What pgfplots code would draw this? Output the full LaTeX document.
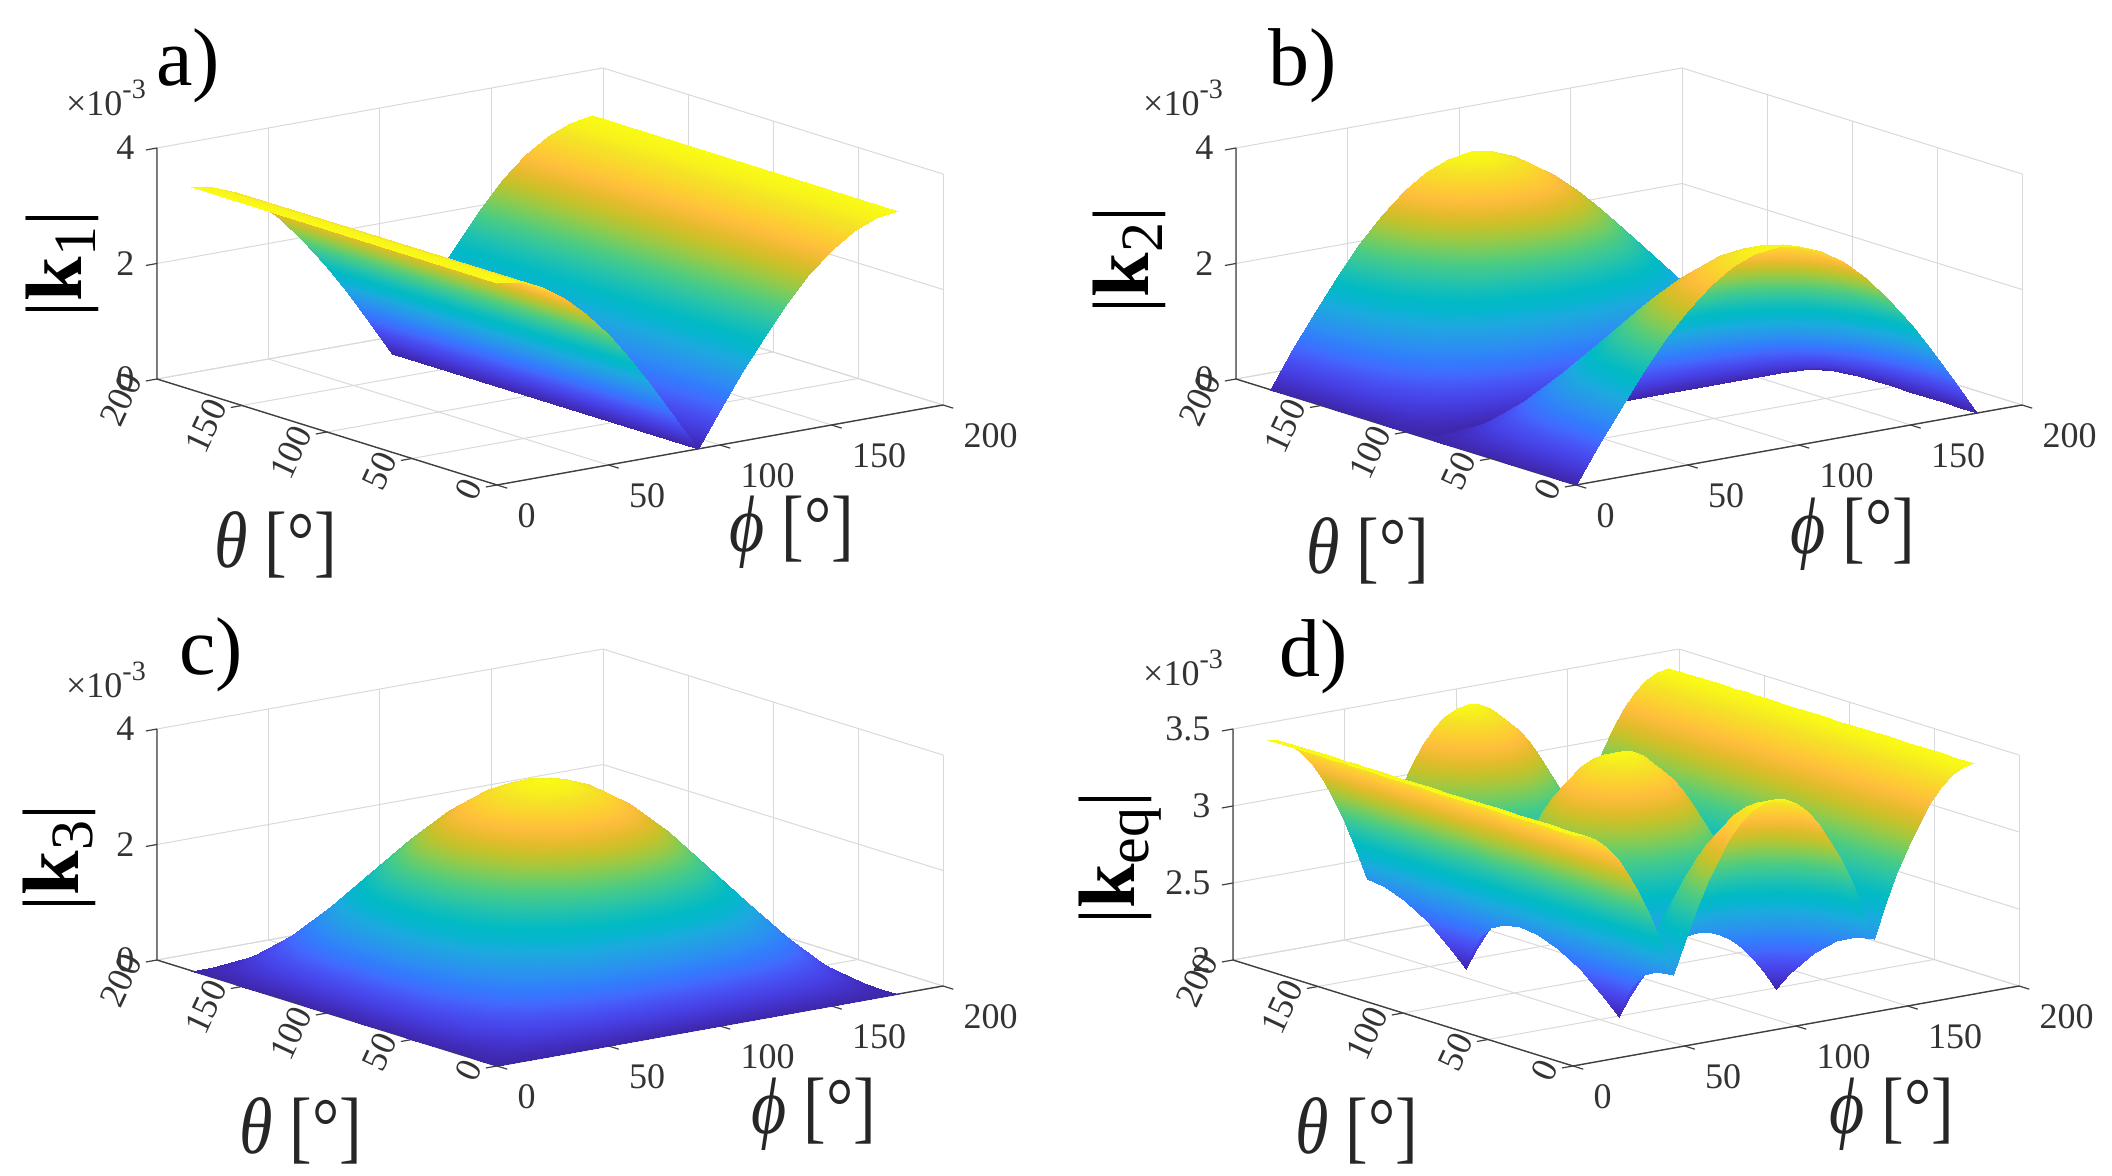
\documentclass[border=0pt]{standalone}
\usepackage{pgfplots}
\pgfplotsset{compat=1.18}
\usepackage{fontspec}
\setmainfont{Liberation Serif}
\pgfplotsset{
 colormap={parula}{rgb=(0.2422,0.1504,0.6603) rgb=(0.2647,0.1978,0.7952) rgb=(0.2783,0.2559,0.8991) rgb=(0.2810,0.3228,0.9579) rgb=(0.2602,0.4123,0.9952) rgb=(0.1963,0.4847,0.9892) rgb=(0.1764,0.5499,0.9520) rgb=(0.1460,0.6091,0.9079) rgb=(0.1113,0.6635,0.8763) rgb=(0.0297,0.7082,0.8163) rgb=(0.0067,0.7312,0.7660) rgb=(0.0964,0.7500,0.7120) rgb=(0.1938,0.7758,0.6251) rgb=(0.2906,0.7973,0.5188) rgb=(0.4456,0.8024,0.3909) rgb=(0.6174,0.7876,0.2612) rgb=(0.7738,0.7598,0.1646) rgb=(0.9035,0.7330,0.1774) rgb=(0.9956,0.7434,0.2371) rgb=(0.9892,0.8136,0.1885) rgb=(0.9610,0.8890,0.1537) rgb=(0.9769,0.9839,0.0805)},
 panel/.style={anchor=center, clip=false, x={(1.115pt,0.2pt)}, y={(-0.85pt,0.265pt)},
  xmin=0,xmax=200,ymin=0,ymax=200,
  xtick={0,50,100,150,200}, ytick={0,50,100,150,200},
  axis line style={draw=none}, tick pos=left,
  grid=major, grid style={black!15,line width=.5pt},
  tick align=outside, tick style={draw=none}, major tick length=5pt,
  /pgf/number format/assume math mode=true,
  tick label style={font=\fontsize{18}{18}\selectfont, text=black!80},
  xticklabel style={anchor=west,xshift=2pt,yshift=-14pt},
  yticklabel style={rotate=65,anchor=east,xshift=3pt,yshift=8pt},
  zticklabel style={anchor=east,xshift=-3pt,yshift=-1.5pt},
 },
 srf/.style={surf,shader=interp,z buffer=none,mesh/ordering=x varies,mesh/cols=19},
}
\newcommand\axl{\fontsize{40}{40}\selectfont}
\newcommand\subs[1]{\raisebox{-.18em}{\fontsize{30}{30}\selectfont #1}}
\newcommand\timesten{×10\raisebox{.45em}{\fontsize{14}{14}\selectfont -3}}
\newcommand\axframe[2]{%
\draw[black!75,line width=.7pt] (axis cs:200,0,#1)--(axis cs:0,0,#1)--(axis cs:0,200,#1)--(axis cs:0,200,#2);
\draw[black!75,line width=.6pt] (axis cs:0,0,#1)--(axis cs:0,-6,#1) (axis cs:50,0,#1)--(axis cs:50,-6,#1) (axis cs:100,0,#1)--(axis cs:100,-6,#1) (axis cs:150,0,#1)--(axis cs:150,-6,#1) (axis cs:200,0,#1)--(axis cs:200,-6,#1)
 (axis cs:0,0,#1)--(axis cs:-5,0,#1) (axis cs:0,50,#1)--(axis cs:-5,50,#1) (axis cs:0,100,#1)--(axis cs:-5,100,#1) (axis cs:0,150,#1)--(axis cs:-5,150,#1) (axis cs:0,200,#1)--(axis cs:-5,200,#1);}
\newcommand\zstub[1]{\draw[black!75,line width=.6pt] (axis cs:0,200,#1)--(axis cs:-5,200,#1);}
\begin{document}
\begin{tikzpicture}
\path[use as bounding box] (0pt,0pt) rectangle (1056pt,588pt);
% panel a
\begin{axis}[panel, at={(275pt,449.75pt)}, z={(0pt,28.875pt)}, zmin=0,zmax=4, ztick={0,2,4}]
\axframe{0}{4}\zstub{2}\zstub{4}
\addplot3[srf,mesh/rows=2] table {
180 180 3.5
170 180 3.447
160 180 3.289
150 180 3.031
140 180 2.681
130 180 2.25
120 180 1.75
110 180 1.197
100 180 .608
90 180 0
80 180 .608
70 180 1.197
60 180 1.75
50 180 2.25
40 180 2.681
30 180 3.031
20 180 3.289
10 180 3.447
0 180 3.5
180 0 3.5
170 0 3.447
160 0 3.289
150 0 3.031
140 0 2.681
130 0 2.25
120 0 1.75
110 0 1.197
100 0 .608
90 0 0
80 0 .608
70 0 1.197
60 0 1.75
50 0 2.25
40 0 2.681
30 0 3.031
20 0 3.289
10 0 3.447
0 0 3.5
};
\end{axis}
% panel b
\begin{axis}[panel, at={(814.5pt,449.75pt)}, z={(0pt,28.875pt)}, zmin=0,zmax=4, ztick={0,2,4}]
\axframe{0}{4}\zstub{2}\zstub{4}
\addplot3[srf,mesh/rows=19] table {
180 180 0
170 180 .608
160 180 1.197
150 180 1.75
140 180 2.25
130 180 2.681
120 180 3.031
110 180 3.289
100 180 3.447
90 180 3.5
80 180 3.447
70 180 3.289
60 180 3.031
50 180 2.681
40 180 2.25
30 180 1.75
20 180 1.197
10 180 .608
0 180 0
180 170 0
170 170 .598
160 170 1.179
150 170 1.723
140 170 2.216
130 170 2.64
120 170 2.985
110 170 3.239
100 170 3.394
90 170 3.447
80 170 3.394
70 170 3.239
60 170 2.985
50 170 2.64
40 170 2.216
30 170 1.723
20 170 1.179
10 170 .598
0 170 0
180 160 0
170 160 .571
160 160 1.125
150 160 1.645
140 160 2.114
130 160 2.52
120 160 2.848
110 160 3.09
100 160 3.239
90 160 3.289
80 160 3.239
70 160 3.09
60 160 2.848
50 160 2.52
40 160 2.114
30 160 1.645
20 160 1.125
10 160 .571
0 160 0
180 150 0
170 150 .526
160 150 1.037
150 150 1.516
140 150 1.948
130 150 2.322
120 150 2.625
110 150 2.848
100 150 2.985
90 150 3.031
80 150 2.985
70 150 2.848
60 150 2.625
50 150 2.322
40 150 1.948
30 150 1.516
20 150 1.037
10 150 .526
0 150 0
180 140 0
170 140 .465
160 140 .917
150 140 1.341
140 140 1.723
130 140 2.054
120 140 2.322
110 140 2.52
100 140 2.64
90 140 2.681
80 140 2.64
70 140 2.52
60 140 2.322
50 140 2.054
40 140 1.723
30 140 1.341
20 140 .917
10 140 .465
0 140 0
180 130 0
170 130 .391
160 130 .77
150 130 1.125
140 130 1.446
130 130 1.723
120 130 1.948
110 130 2.114
100 130 2.216
90 130 2.25
80 130 2.216
70 130 2.114
60 130 1.948
50 130 1.723
40 130 1.446
30 130 1.125
20 130 .77
10 130 .391
0 130 0
180 120 0
170 120 .304
160 120 .599
150 120 .875
140 120 1.125
130 120 1.341
120 120 1.516
110 120 1.645
100 120 1.723
90 120 1.75
80 120 1.723
70 120 1.645
60 120 1.516
50 120 1.341
40 120 1.125
30 120 .875
20 120 .599
10 120 .304
0 120 0
180 110 0
170 110 .208
160 110 .409
150 110 .599
140 110 .77
130 110 .917
120 110 1.037
110 110 1.125
100 110 1.179
90 110 1.197
80 110 1.179
70 110 1.125
60 110 1.037
50 110 .917
40 110 .77
30 110 .599
20 110 .409
10 110 .208
0 110 0
180 100 0
170 100 .106
160 100 .208
150 100 .304
140 100 .391
130 100 .465
120 100 .526
110 100 .571
100 100 .598
90 100 .608
80 100 .598
70 100 .571
60 100 .526
50 100 .465
40 100 .391
30 100 .304
20 100 .208
10 100 .106
0 100 0
180 90 0
170 90 0
160 90 0
150 90 0
140 90 0
130 90 0
120 90 0
110 90 0
100 90 0
90 90 0
80 90 0
70 90 0
60 90 0
50 90 0
40 90 0
30 90 0
20 90 0
10 90 0
0 90 0
180 80 0
170 80 .106
160 80 .208
150 80 .304
140 80 .391
130 80 .465
120 80 .526
110 80 .571
100 80 .598
90 80 .608
80 80 .598
70 80 .571
60 80 .526
50 80 .465
40 80 .391
30 80 .304
20 80 .208
10 80 .106
0 80 0
180 70 0
170 70 .208
160 70 .409
150 70 .599
140 70 .77
130 70 .917
120 70 1.037
110 70 1.125
100 70 1.179
90 70 1.197
80 70 1.179
70 70 1.125
60 70 1.037
50 70 .917
40 70 .77
30 70 .599
20 70 .409
10 70 .208
0 70 0
180 60 0
170 60 .304
160 60 .599
150 60 .875
140 60 1.125
130 60 1.341
120 60 1.516
110 60 1.645
100 60 1.723
90 60 1.75
80 60 1.723
70 60 1.645
60 60 1.516
50 60 1.341
40 60 1.125
30 60 .875
20 60 .599
10 60 .304
0 60 0
180 50 0
170 50 .391
160 50 .77
150 50 1.125
140 50 1.446
130 50 1.723
120 50 1.948
110 50 2.114
100 50 2.216
90 50 2.25
80 50 2.216
70 50 2.114
60 50 1.948
50 50 1.723
40 50 1.446
30 50 1.125
20 50 .77
10 50 .391
0 50 0
180 40 0
170 40 .465
160 40 .917
150 40 1.341
140 40 1.723
130 40 2.054
120 40 2.322
110 40 2.52
100 40 2.64
90 40 2.681
80 40 2.64
70 40 2.52
60 40 2.322
50 40 2.054
40 40 1.723
30 40 1.341
20 40 .917
10 40 .465
0 40 0
180 30 0
170 30 .526
160 30 1.037
150 30 1.516
140 30 1.948
130 30 2.322
120 30 2.625
110 30 2.848
100 30 2.985
90 30 3.031
80 30 2.985
70 30 2.848
60 30 2.625
50 30 2.322
40 30 1.948
30 30 1.516
20 30 1.037
10 30 .526
0 30 0
180 20 0
170 20 .571
160 20 1.125
150 20 1.645
140 20 2.114
130 20 2.52
120 20 2.848
110 20 3.09
100 20 3.239
90 20 3.289
80 20 3.239
70 20 3.09
60 20 2.848
50 20 2.52
40 20 2.114
30 20 1.645
20 20 1.125
10 20 .571
0 20 0
180 10 0
170 10 .598
160 10 1.179
150 10 1.723
140 10 2.216
130 10 2.64
120 10 2.985
110 10 3.239
100 10 3.394
90 10 3.447
80 10 3.394
70 10 3.239
60 10 2.985
50 10 2.64
40 10 2.216
30 10 1.723
20 10 1.179
10 10 .598
0 10 0
180 0 0
170 0 .608
160 0 1.197
150 0 1.75
140 0 2.25
130 0 2.681
120 0 3.031
110 0 3.289
100 0 3.447
90 0 3.5
80 0 3.447
70 0 3.289
60 0 3.031
50 0 2.681
40 0 2.25
30 0 1.75
20 0 1.197
10 0 .608
0 0 0
};
\end{axis}
% panel c
\begin{axis}[panel, at={(275pt,159.25pt)}, z={(0pt,28.875pt)}, zmin=0,zmax=4, ztick={0,2,4}]
\axframe{0}{4}\zstub{2}\zstub{4}
\addplot3[srf,mesh/rows=19] table {
180 180 0
170 180 0
160 180 0
150 180 0
140 180 0
130 180 0
120 180 0
110 180 0
100 180 0
90 180 0
80 180 0
70 180 0
60 180 0
50 180 0
40 180 0
30 180 0
20 180 0
10 180 0
0 180 0
180 170 0
170 170 .106
160 170 .208
150 170 .304
140 170 .391
130 170 .465
120 170 .526
110 170 .571
100 170 .598
90 170 .608
80 170 .598
70 170 .571
60 170 .526
50 170 .465
40 170 .391
30 170 .304
20 170 .208
10 170 .106
0 170 0
180 160 0
170 160 .208
160 160 .409
150 160 .599
140 160 .77
130 160 .917
120 160 1.037
110 160 1.125
100 160 1.179
90 160 1.197
80 160 1.179
70 160 1.125
60 160 1.037
50 160 .917
40 160 .77
30 160 .599
20 160 .409
10 160 .208
0 160 0
180 150 0
170 150 .304
160 150 .599
150 150 .875
140 150 1.125
130 150 1.341
120 150 1.516
110 150 1.645
100 150 1.723
90 150 1.75
80 150 1.723
70 150 1.645
60 150 1.516
50 150 1.341
40 150 1.125
30 150 .875
20 150 .599
10 150 .304
0 150 0
180 140 0
170 140 .391
160 140 .77
150 140 1.125
140 140 1.446
130 140 1.723
120 140 1.948
110 140 2.114
100 140 2.216
90 140 2.25
80 140 2.216
70 140 2.114
60 140 1.948
50 140 1.723
40 140 1.446
30 140 1.125
20 140 .77
10 140 .391
0 140 0
180 130 0
170 130 .465
160 130 .917
150 130 1.341
140 130 1.723
130 130 2.054
120 130 2.322
110 130 2.52
100 130 2.64
90 130 2.681
80 130 2.64
70 130 2.52
60 130 2.322
50 130 2.054
40 130 1.723
30 130 1.341
20 130 .917
10 130 .465
0 130 0
180 120 0
170 120 .526
160 120 1.037
150 120 1.516
140 120 1.948
130 120 2.322
120 120 2.625
110 120 2.848
100 120 2.985
90 120 3.031
80 120 2.985
70 120 2.848
60 120 2.625
50 120 2.322
40 120 1.948
30 120 1.516
20 120 1.037
10 120 .526
0 120 0
180 110 0
170 110 .571
160 110 1.125
150 110 1.645
140 110 2.114
130 110 2.52
120 110 2.848
110 110 3.09
100 110 3.239
90 110 3.289
80 110 3.239
70 110 3.09
60 110 2.848
50 110 2.52
40 110 2.114
30 110 1.645
20 110 1.125
10 110 .571
0 110 0
180 100 0
170 100 .598
160 100 1.179
150 100 1.723
140 100 2.216
130 100 2.64
120 100 2.985
110 100 3.239
100 100 3.394
90 100 3.447
80 100 3.394
70 100 3.239
60 100 2.985
50 100 2.64
40 100 2.216
30 100 1.723
20 100 1.179
10 100 .598
0 100 0
180 90 0
170 90 .608
160 90 1.197
150 90 1.75
140 90 2.25
130 90 2.681
120 90 3.031
110 90 3.289
100 90 3.447
90 90 3.5
80 90 3.447
70 90 3.289
60 90 3.031
50 90 2.681
40 90 2.25
30 90 1.75
20 90 1.197
10 90 .608
0 90 0
180 80 0
170 80 .598
160 80 1.179
150 80 1.723
140 80 2.216
130 80 2.64
120 80 2.985
110 80 3.239
100 80 3.394
90 80 3.447
80 80 3.394
70 80 3.239
60 80 2.985
50 80 2.64
40 80 2.216
30 80 1.723
20 80 1.179
10 80 .598
0 80 0
180 70 0
170 70 .571
160 70 1.125
150 70 1.645
140 70 2.114
130 70 2.52
120 70 2.848
110 70 3.09
100 70 3.239
90 70 3.289
80 70 3.239
70 70 3.09
60 70 2.848
50 70 2.52
40 70 2.114
30 70 1.645
20 70 1.125
10 70 .571
0 70 0
180 60 0
170 60 .526
160 60 1.037
150 60 1.516
140 60 1.948
130 60 2.322
120 60 2.625
110 60 2.848
100 60 2.985
90 60 3.031
80 60 2.985
70 60 2.848
60 60 2.625
50 60 2.322
40 60 1.948
30 60 1.516
20 60 1.037
10 60 .526
0 60 0
180 50 0
170 50 .465
160 50 .917
150 50 1.341
140 50 1.723
130 50 2.054
120 50 2.322
110 50 2.52
100 50 2.64
90 50 2.681
80 50 2.64
70 50 2.52
60 50 2.322
50 50 2.054
40 50 1.723
30 50 1.341
20 50 .917
10 50 .465
0 50 0
180 40 0
170 40 .391
160 40 .77
150 40 1.125
140 40 1.446
130 40 1.723
120 40 1.948
110 40 2.114
100 40 2.216
90 40 2.25
80 40 2.216
70 40 2.114
60 40 1.948
50 40 1.723
40 40 1.446
30 40 1.125
20 40 .77
10 40 .391
0 40 0
180 30 0
170 30 .304
160 30 .599
150 30 .875
140 30 1.125
130 30 1.341
120 30 1.516
110 30 1.645
100 30 1.723
90 30 1.75
80 30 1.723
70 30 1.645
60 30 1.516
50 30 1.341
40 30 1.125
30 30 .875
20 30 .599
10 30 .304
0 30 0
180 20 0
170 20 .208
160 20 .409
150 20 .599
140 20 .77
130 20 .917
120 20 1.037
110 20 1.125
100 20 1.179
90 20 1.197
80 20 1.179
70 20 1.125
60 20 1.037
50 20 .917
40 20 .77
30 20 .599
20 20 .409
10 20 .208
0 20 0
180 10 0
170 10 .106
160 10 .208
150 10 .304
140 10 .391
130 10 .465
120 10 .526
110 10 .571
100 10 .598
90 10 .608
80 10 .598
70 10 .571
60 10 .526
50 10 .465
40 10 .391
30 10 .304
20 10 .208
10 10 .106
0 10 0
180 0 0
170 0 0
160 0 0
150 0 0
140 0 0
130 0 0
120 0 0
110 0 0
100 0 0
90 0 0
80 0 0
70 0 0
60 0 0
50 0 0
40 0 0
30 0 0
20 0 0
10 0 0
0 0 0
};
\end{axis}
% panel d
\begin{axis}[panel, at={(813pt,159.25pt)}, z={(0pt,77pt)}, zmin=2,zmax=3.5, ztick={2,2.5,3,3.5}]
\axframe{2}{3.5}\zstub{2.5}\zstub{3}\zstub{3.5}
\addplot3[srf,mesh/cols=37,mesh/rows=21] table {
180 180 3.5
175 180 3.487
170 180 3.447
165 180 3.381
160 180 3.289
155 180 3.172
150 180 3.031
145 180 2.867
140 180 2.681
135 180 2.475
135 180 2.475
125 180 2.867
120 180 3.031
115 180 3.172
110 180 3.289
105 180 3.381
100 180 3.447
95 180 3.487
90 180 3.5
85 180 3.487
80 180 3.447
75 180 3.381
70 180 3.289
65 180 3.172
60 180 3.031
55 180 2.867
45 180 2.475
45 180 2.475
40 180 2.681
35 180 2.867
30 180 3.031
25 180 3.172
20 180 3.289
15 180 3.381
10 180 3.447
5 180 3.487
0 180 3.5
180 170 3.5
175 170 3.487
170 170 3.447
165 170 3.381
160 170 3.289
155 170 3.172
150 170 3.031
145 170 2.867
140 170 2.681
135 170 2.475
134.56 170 2.456
125 170 2.824
120 170 2.985
115 170 3.124
110 170 3.239
105 170 3.329
100 170 3.394
95 170 3.434
90 170 3.447
85 170 3.434
80 170 3.394
75 170 3.329
70 170 3.239
65 170 3.124
60 170 2.985
55 170 2.824
45.44 170 2.456
45 170 2.475
40 170 2.681
35 170 2.867
30 170 3.031
25 170 3.172
20 170 3.289
15 170 3.381
10 170 3.447
5 170 3.487
0 170 3.5
180 160 3.5
175 160 3.487
170 160 3.447
165 160 3.381
160 160 3.289
155 160 3.172
150 160 3.031
145 160 2.867
140 160 2.681
135 160 2.475
133.22 160 2.398
125 160 2.694
120 160 2.848
115 160 2.981
110 160 3.09
105 160 3.177
100 160 3.239
95 160 3.277
90 160 3.289
85 160 3.277
80 160 3.239
75 160 3.177
70 160 3.09
65 160 2.981
60 160 2.848
55 160 2.694
46.78 160 2.398
45 160 2.475
40 160 2.681
35 160 2.867
30 160 3.031
25 160 3.172
20 160 3.289
15 160 3.381
10 160 3.447
5 160 3.487
0 160 3.5
180 150 3.5
175 150 3.487
170 150 3.447
165 150 3.381
160 150 3.289
155 150 3.172
150 150 3.031
145 150 2.867
140 150 2.681
135 150 2.475
130.89 150 2.291
125 150 2.483
120 150 2.625
115 150 2.747
110 150 2.848
105 150 2.928
100 150 2.985
95 150 3.019
90 150 3.031
85 150 3.019
80 150 2.985
75 150 2.928
70 150 2.848
65 150 2.747
60 150 2.625
55 150 2.483
49.11 150 2.291
45 150 2.475
40 150 2.681
35 150 2.867
30 150 3.031
25 150 3.172
20 150 3.289
15 150 3.381
10 150 3.447
5 150 3.487
0 150 3.5
180 140 3.5
175 140 3.487
170 140 3.447
165 140 3.381
160 140 3.289
155 140 3.172
150 140 3.031
145 140 2.867
140 140 2.681
135 140 2.475
127.46 140 2.129
125 140 2.196
120 140 2.322
115 140 2.43
110 140 2.52
105 140 2.59
100 140 2.64
95 140 2.671
90 140 2.681
85 140 2.671
80 140 2.64
75 140 2.59
70 140 2.52
65 140 2.43
60 140 2.322
55 140 2.196
52.54 140 2.129
45 140 2.475
40 140 2.681
35 140 2.867
30 140 3.031
25 140 3.172
20 140 3.289
15 140 3.381
10 140 3.447
5 140 3.487
0 140 3.5
180 135 3.5
175 135 3.487
170 135 3.447
165 135 3.381
160 135 3.289
155 135 3.172
150 135 3.031
145 135 2.867
140 135 2.681
135 135 2.475
125.26 135 2.021
125 135 2.028
120 135 2.143
115 135 2.243
110 135 2.326
105 135 2.391
100 135 2.437
95 135 2.466
90 135 2.475
85 135 2.466
80 135 2.437
75 135 2.391
70 135 2.326
65 135 2.243
60 135 2.143
55 135 2.028
54.74 135 2.021
45 135 2.475
40 135 2.681
35 135 2.867
30 135 3.031
25 135 3.172
20 135 3.289
15 135 3.381
10 135 3.447
5 135 3.487
0 135 3.5
180 130 3.5
175 130 3.487
170 130 3.447
165 130 3.381
160 130 3.289
155 130 3.172
150 130 3.031
145 130 2.867
140 130 2.681
135 130 2.475
127.46 130 2.129
125 130 2.196
120 130 2.322
115 130 2.43
110 130 2.52
105 130 2.59
100 130 2.64
95 130 2.671
90 130 2.681
85 130 2.671
80 130 2.64
75 130 2.59
70 130 2.52
65 130 2.43
60 130 2.322
55 130 2.196
52.54 130 2.129
45 130 2.475
40 130 2.681
35 130 2.867
30 130 3.031
25 130 3.172
20 130 3.289
15 130 3.381
10 130 3.447
5 130 3.487
0 130 3.5
180 120 3.5
175 120 3.487
170 120 3.447
165 120 3.381
160 120 3.289
155 120 3.172
150 120 3.031
145 120 2.867
140 120 2.681
135 120 2.475
130.89 120 2.291
125 120 2.483
120 120 2.625
115 120 2.747
110 120 2.848
105 120 2.928
100 120 2.985
95 120 3.019
90 120 3.031
85 120 3.019
80 120 2.985
75 120 2.928
70 120 2.848
65 120 2.747
60 120 2.625
55 120 2.483
49.11 120 2.291
45 120 2.475
40 120 2.681
35 120 2.867
30 120 3.031
25 120 3.172
20 120 3.289
15 120 3.381
10 120 3.447
5 120 3.487
0 120 3.5
180 110 3.5
175 110 3.487
170 110 3.447
165 110 3.381
160 110 3.289
155 110 3.172
150 110 3.031
145 110 2.867
140 110 2.681
135 110 2.475
133.22 110 2.398
125 110 2.694
120 110 2.848
115 110 2.981
110 110 3.09
105 110 3.177
100 110 3.239
95 110 3.277
90 110 3.289
85 110 3.277
80 110 3.239
75 110 3.177
70 110 3.09
65 110 2.981
60 110 2.848
55 110 2.694
46.78 110 2.398
45 110 2.475
40 110 2.681
35 110 2.867
30 110 3.031
25 110 3.172
20 110 3.289
15 110 3.381
10 110 3.447
5 110 3.487
0 110 3.5
180 100 3.5
175 100 3.487
170 100 3.447
165 100 3.381
160 100 3.289
155 100 3.172
150 100 3.031
145 100 2.867
140 100 2.681
135 100 2.475
134.56 100 2.456
125 100 2.824
120 100 2.985
115 100 3.124
110 100 3.239
105 100 3.329
100 100 3.394
95 100 3.434
90 100 3.447
85 100 3.434
80 100 3.394
75 100 3.329
70 100 3.239
65 100 3.124
60 100 2.985
55 100 2.824
45.44 100 2.456
45 100 2.475
40 100 2.681
35 100 2.867
30 100 3.031
25 100 3.172
20 100 3.289
15 100 3.381
10 100 3.447
5 100 3.487
0 100 3.5
180 90 3.5
175 90 3.487
170 90 3.447
165 90 3.381
160 90 3.289
155 90 3.172
150 90 3.031
145 90 2.867
140 90 2.681
135 90 2.475
135 90 2.475
125 90 2.867
120 90 3.031
115 90 3.172
110 90 3.289
105 90 3.381
100 90 3.447
95 90 3.487
90 90 3.5
85 90 3.487
80 90 3.447
75 90 3.381
70 90 3.289
65 90 3.172
60 90 3.031
55 90 2.867
45 90 2.475
45 90 2.475
40 90 2.681
35 90 2.867
30 90 3.031
25 90 3.172
20 90 3.289
15 90 3.381
10 90 3.447
5 90 3.487
0 90 3.5
180 80 3.5
175 80 3.487
170 80 3.447
165 80 3.381
160 80 3.289
155 80 3.172
150 80 3.031
145 80 2.867
140 80 2.681
135 80 2.475
134.56 80 2.456
125 80 2.824
120 80 2.985
115 80 3.124
110 80 3.239
105 80 3.329
100 80 3.394
95 80 3.434
90 80 3.447
85 80 3.434
80 80 3.394
75 80 3.329
70 80 3.239
65 80 3.124
60 80 2.985
55 80 2.824
45.44 80 2.456
45 80 2.475
40 80 2.681
35 80 2.867
30 80 3.031
25 80 3.172
20 80 3.289
15 80 3.381
10 80 3.447
5 80 3.487
0 80 3.5
180 70 3.5
175 70 3.487
170 70 3.447
165 70 3.381
160 70 3.289
155 70 3.172
150 70 3.031
145 70 2.867
140 70 2.681
135 70 2.475
133.22 70 2.398
125 70 2.694
120 70 2.848
115 70 2.981
110 70 3.09
105 70 3.177
100 70 3.239
95 70 3.277
90 70 3.289
85 70 3.277
80 70 3.239
75 70 3.177
70 70 3.09
65 70 2.981
60 70 2.848
55 70 2.694
46.78 70 2.398
45 70 2.475
40 70 2.681
35 70 2.867
30 70 3.031
25 70 3.172
20 70 3.289
15 70 3.381
10 70 3.447
5 70 3.487
0 70 3.5
180 60 3.5
175 60 3.487
170 60 3.447
165 60 3.381
160 60 3.289
155 60 3.172
150 60 3.031
145 60 2.867
140 60 2.681
135 60 2.475
130.89 60 2.291
125 60 2.483
120 60 2.625
115 60 2.747
110 60 2.848
105 60 2.928
100 60 2.985
95 60 3.019
90 60 3.031
85 60 3.019
80 60 2.985
75 60 2.928
70 60 2.848
65 60 2.747
60 60 2.625
55 60 2.483
49.11 60 2.291
45 60 2.475
40 60 2.681
35 60 2.867
30 60 3.031
25 60 3.172
20 60 3.289
15 60 3.381
10 60 3.447
5 60 3.487
0 60 3.5
180 50 3.5
175 50 3.487
170 50 3.447
165 50 3.381
160 50 3.289
155 50 3.172
150 50 3.031
145 50 2.867
140 50 2.681
135 50 2.475
127.46 50 2.129
125 50 2.196
120 50 2.322
115 50 2.43
110 50 2.52
105 50 2.59
100 50 2.64
95 50 2.671
90 50 2.681
85 50 2.671
80 50 2.64
75 50 2.59
70 50 2.52
65 50 2.43
60 50 2.322
55 50 2.196
52.54 50 2.129
45 50 2.475
40 50 2.681
35 50 2.867
30 50 3.031
25 50 3.172
20 50 3.289
15 50 3.381
10 50 3.447
5 50 3.487
0 50 3.5
180 45 3.5
175 45 3.487
170 45 3.447
165 45 3.381
160 45 3.289
155 45 3.172
150 45 3.031
145 45 2.867
140 45 2.681
135 45 2.475
125.26 45 2.021
125 45 2.028
120 45 2.143
115 45 2.243
110 45 2.326
105 45 2.391
100 45 2.437
95 45 2.466
90 45 2.475
85 45 2.466
80 45 2.437
75 45 2.391
70 45 2.326
65 45 2.243
60 45 2.143
55 45 2.028
54.74 45 2.021
45 45 2.475
40 45 2.681
35 45 2.867
30 45 3.031
25 45 3.172
20 45 3.289
15 45 3.381
10 45 3.447
5 45 3.487
0 45 3.5
180 40 3.5
175 40 3.487
170 40 3.447
165 40 3.381
160 40 3.289
155 40 3.172
150 40 3.031
145 40 2.867
140 40 2.681
135 40 2.475
127.46 40 2.129
125 40 2.196
120 40 2.322
115 40 2.43
110 40 2.52
105 40 2.59
100 40 2.64
95 40 2.671
90 40 2.681
85 40 2.671
80 40 2.64
75 40 2.59
70 40 2.52
65 40 2.43
60 40 2.322
55 40 2.196
52.54 40 2.129
45 40 2.475
40 40 2.681
35 40 2.867
30 40 3.031
25 40 3.172
20 40 3.289
15 40 3.381
10 40 3.447
5 40 3.487
0 40 3.5
180 30 3.5
175 30 3.487
170 30 3.447
165 30 3.381
160 30 3.289
155 30 3.172
150 30 3.031
145 30 2.867
140 30 2.681
135 30 2.475
130.89 30 2.291
125 30 2.483
120 30 2.625
115 30 2.747
110 30 2.848
105 30 2.928
100 30 2.985
95 30 3.019
90 30 3.031
85 30 3.019
80 30 2.985
75 30 2.928
70 30 2.848
65 30 2.747
60 30 2.625
55 30 2.483
49.11 30 2.291
45 30 2.475
40 30 2.681
35 30 2.867
30 30 3.031
25 30 3.172
20 30 3.289
15 30 3.381
10 30 3.447
5 30 3.487
0 30 3.5
180 20 3.5
175 20 3.487
170 20 3.447
165 20 3.381
160 20 3.289
155 20 3.172
150 20 3.031
145 20 2.867
140 20 2.681
135 20 2.475
133.22 20 2.398
125 20 2.694
120 20 2.848
115 20 2.981
110 20 3.09
105 20 3.177
100 20 3.239
95 20 3.277
90 20 3.289
85 20 3.277
80 20 3.239
75 20 3.177
70 20 3.09
65 20 2.981
60 20 2.848
55 20 2.694
46.78 20 2.398
45 20 2.475
40 20 2.681
35 20 2.867
30 20 3.031
25 20 3.172
20 20 3.289
15 20 3.381
10 20 3.447
5 20 3.487
0 20 3.5
180 10 3.5
175 10 3.487
170 10 3.447
165 10 3.381
160 10 3.289
155 10 3.172
150 10 3.031
145 10 2.867
140 10 2.681
135 10 2.475
134.56 10 2.456
125 10 2.824
120 10 2.985
115 10 3.124
110 10 3.239
105 10 3.329
100 10 3.394
95 10 3.434
90 10 3.447
85 10 3.434
80 10 3.394
75 10 3.329
70 10 3.239
65 10 3.124
60 10 2.985
55 10 2.824
45.44 10 2.456
45 10 2.475
40 10 2.681
35 10 2.867
30 10 3.031
25 10 3.172
20 10 3.289
15 10 3.381
10 10 3.447
5 10 3.487
0 10 3.5
180 0 3.5
175 0 3.487
170 0 3.447
165 0 3.381
160 0 3.289
155 0 3.172
150 0 3.031
145 0 2.867
140 0 2.681
135 0 2.475
135 0 2.475
125 0 2.867
120 0 3.031
115 0 3.172
110 0 3.289
105 0 3.381
100 0 3.447
95 0 3.487
90 0 3.5
85 0 3.487
80 0 3.447
75 0 3.381
70 0 3.289
65 0 3.172
60 0 3.031
55 0 2.867
45 0 2.475
45 0 2.475
40 0 2.681
35 0 2.867
30 0 3.031
25 0 3.172
20 0 3.289
15 0 3.381
10 0 3.447
5 0 3.487
0 0 3.5
};
\end{axis}
\node[font=\fontsize{41}{41}\selectfont] at (94pt,555pt) {a)};
\node[font=\fontsize{41}{41}\selectfont] at (651.5pt,555pt) {b)};
\node[font=\fontsize{41}{41}\selectfont] at (105.5pt,260.5pt) {c)};
\node[font=\fontsize{41}{41}\selectfont] at (657pt,259.5pt) {d)};
\node[rotate=90,font=\axl] at (31pt,456pt) {|\textbf{k}\subs{1}|};
\node[rotate=90,font=\axl] at (564.5pt,458pt) {|\textbf{k}\subs{2}|};
\node[rotate=90,font=\axl] at (29.5pt,159pt) {|\textbf{k}\subs{3}|};
\node[rotate=90,font=\axl] at (560pt,159pt) {|\textbf{k}\subs{eq}|};
\node[font=\axl,text=black!85,xscale=.85] at (138pt,315.5pt) {\textit{θ} [°]};
\node[font=\axl,text=black!85,xscale=.85] at (396pt,322pt) {\textit{ϕ} [°]};
\node[font=\axl,text=black!85,xscale=.85] at (684pt,312.5pt) {\textit{θ} [°]};
\node[font=\axl,text=black!85,xscale=.85] at (926.5pt,321pt) {\textit{ϕ} [°]};
\node[font=\axl,text=black!85,xscale=.85] at (150.5pt,22.5pt) {\textit{θ} [°]};
\node[font=\axl,text=black!85,xscale=.85] at (407pt,31pt) {\textit{ϕ} [°]};
\node[font=\axl,text=black!85,xscale=.85] at (678.5pt,22.5pt) {\textit{θ} [°]};
\node[font=\axl,text=black!85,xscale=.85] at (946pt,31pt) {\textit{ϕ} [°]};
\node[font=\fontsize{18}{18}\selectfont,text=black!80] at (53pt,539pt) {\timesten};
\node[font=\fontsize{18}{18}\selectfont,text=black!80] at (591.5pt,539pt) {\timesten};
\node[font=\fontsize{18}{18}\selectfont,text=black!80] at (53pt,248pt) {\timesten};
\node[font=\fontsize{18}{18}\selectfont,text=black!80] at (591.5pt,254pt) {\timesten};
\end{tikzpicture}
\end{document}
